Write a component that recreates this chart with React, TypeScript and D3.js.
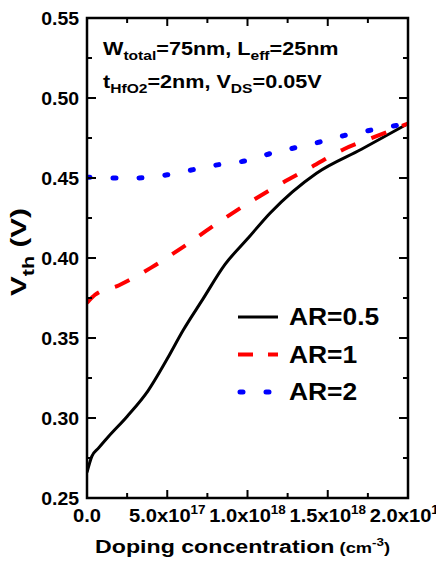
import React from "react";
import * as d3 from "d3";

// Threshold voltage vs. channel doping for three aspect ratios
const dopingAR05 = [0, 0.03e18, 0.07e18, 0.13e18, 0.25e18, 0.38e18, 0.5e18, 0.6e18, 0.72e18, 0.86e18, 1.0e18, 1.14e18, 1.43e18, 1.71e18, 2.0e18];
const vthAR05 = [0.266, 0.276, 0.281, 0.288, 0.301, 0.317, 0.337, 0.355, 0.374, 0.396, 0.412, 0.428, 0.453, 0.468, 0.484];

const dopingAR1 = [0, 0.05e18, 0.2e18, 0.4e18, 0.6e18, 0.8e18, 1.0e18, 1.2e18, 1.4e18, 1.6e18, 1.8e18, 2.0e18];
const vthAR1 = [0.372, 0.377, 0.383, 0.394, 0.407, 0.421, 0.434, 0.446, 0.457, 0.468, 0.476, 0.484];

const dopingAR2 = [0, 0.15e18, 0.3e18, 0.5e18, 0.65e18, 0.8e18, 1.0e18, 1.15e18, 1.3e18, 1.45e18, 1.6e18, 1.8e18, 2.0e18];
const vthAR2 = [0.4505, 0.45, 0.45, 0.452, 0.455, 0.458, 0.461, 0.4655, 0.469, 0.4725, 0.4765, 0.4805, 0.484];

const xTicks = [0, 5e17, 1e18, 1.5e18, 2e18];
const yTicks = [0.25, 0.3, 0.35, 0.4, 0.45, 0.5, 0.55];
const legendLabels = ["AR=0.5", "AR=1", "AR=2"];

const W = 436;
const H = 568;
const left = 87;
const right = 408;
const top = 18;
const bottom = 498;
const font = "'Liberation Sans', Arial, Helvetica, sans-serif";

const x = d3.scaleLinear().domain([0, 2e18]).range([left, right]);
const y = d3.scaleLinear().domain([0.25, 0.55]).range([bottom, top]);

const series = [
  { xs: dopingAR05, ys: vthAR05, color: "#000000", width: 3, dash: "none", cap: "butt" },
  { xs: dopingAR1, ys: vthAR1, color: "#ff0000", width: 4, dash: "16 17", cap: "butt" },
  { xs: dopingAR2, ys: vthAR2, color: "#0000ff", width: 5, dash: "3 23", cap: "round" },
];

// text with a horizontal stretch applied around its anchor point
function Label({ x, y, size, sx = 1, anchor = "start", rotate = 0, children }: any) {
  return (
    <g transform={`translate(${x},${y}) rotate(${rotate}) scale(${sx},1)`}>
      <text fontSize={size} textAnchor={anchor} fontWeight="bold" fontFamily={font} fill="#000">
        {children}
      </text>
    </g>
  );
}

function xLabel(v: number) {
  if (v === 0) return { mant: "0.0", exp: "" };
  const e = Math.floor(Math.log10(v));
  return { mant: (v / Math.pow(10, e)).toFixed(1), exp: String(e) };
}

export default function App() {
  const line = d3.line<number>().curve(d3.curveMonotoneX);
  const xMinor = d3.range(0, 2e18 + 1, 2.5e17);
  const yMinor = d3.range(0.25, 0.5501, 0.025);

  return (
    <svg width={W} height={H} style={{ position: "absolute", left: 0, top: 0, background: "#fff" }}>
      <defs>
        <clipPath id="plot">
          <rect x={left} y={top} width={right - left} height={bottom - top} />
        </clipPath>
      </defs>

      {/* data */}
      <g clipPath="url(#plot)">
        {series.map((s, i) => {
          const pts = s.xs.map((d, j) => [x(d), y(s.ys[j])] as [number, number]);
          return (
            <path
              key={i}
              d={d3.line().curve(d3.curveMonotoneX)(pts) || ""}
              fill="none"
              stroke={s.color}
              strokeWidth={s.width}
              strokeDasharray={s.dash}
              strokeLinecap={s.cap as any}
            />
          );
        })}
      </g>

      {/* ticks on all four sides, pointing inward */}
      <g stroke="#000" strokeWidth={2}>
        {xMinor.map((v, i) => {
          const len = i % 2 === 0 ? 8 : 5;
          return (
            <g key={i}>
              <line x1={x(v)} x2={x(v)} y1={bottom} y2={bottom - len} />
              <line x1={x(v)} x2={x(v)} y1={top} y2={top + len} />
            </g>
          );
        })}
        {yMinor.map((v, i) => {
          const len = i % 2 === 0 ? 9 : 5;
          return (
            <g key={i}>
              <line x1={left} x2={left + len} y1={y(v)} y2={y(v)} />
              <line x1={right} x2={right - len} y1={y(v)} y2={y(v)} />
            </g>
          );
        })}
      </g>
      <rect x={left} y={top} width={right - left} height={bottom - top} fill="none" stroke="#000" strokeWidth={2.5} />

      {/* tick labels */}
      {yTicks.map((v) => (
        <Label key={v} x={79} y={y(v) + 7} size={18} sx={1.08} anchor="end">
          {v.toFixed(2)}
        </Label>
      ))}
      {xTicks.map((v) => {
        const l = xLabel(v);
        return (
          <Label key={v} x={x(v)} y={522} size={18} sx={1.12} anchor="middle">
            {l.mant}
            {l.exp && (
              <>
                <tspan>x10</tspan>
                <tspan fontSize={12} dy={-8}>{l.exp}</tspan>
              </>
            )}
          </Label>
        );
      })}

      {/* axis titles */}
      <Label x={95} y={553} size={19} sx={1.22}>
        Doping concentration
        <tspan fontSize={15}> (cm</tspan>
        <tspan fontSize={11} dy={-7}>-3</tspan>
        <tspan fontSize={15} dy={7}>)</tspan>
      </Label>
      <Label x={26} y={252} size={22} sx={1.35} anchor="middle" rotate={-90}>
        V<tspan fontSize={16} dy={8}>th</tspan>
        <tspan dy={-8}> (V)</tspan>
      </Label>

      {/* device parameters */}
      <Label x={103} y={55} size={18} sx={1.2}>
        W<tspan fontSize={13} dy={5}>total</tspan>
        <tspan dy={-5}>=75nm, L</tspan>
        <tspan fontSize={13} dy={5}>eff</tspan>
        <tspan dy={-5}>=25nm</tspan>
      </Label>
      <Label x={103} y={88} size={18} sx={1.2}>
        t<tspan fontSize={13} dy={5}>HfO2</tspan>
        <tspan dy={-5}>=2nm, V</tspan>
        <tspan fontSize={13} dy={5}>DS</tspan>
        <tspan dy={-5}>=0.05V</tspan>
      </Label>

      {/* legend */}
      {series.map((s, i) => {
        const ly = 317 + i * 37.5;
        const legendDash = i === 1 ? "15 15" : s.dash;
        return (
          <g key={i}>
            <line
              x1={i === 2 ? 240 : 238}
              x2={278}
              y1={ly}
              y2={ly}
              stroke={s.color}
              strokeWidth={s.width}
              strokeDasharray={legendDash}
              strokeLinecap={s.cap as any}
            />
            <Label x={289} y={ly + 8} size={24} sx={1.1}>
              {legendLabels[i]}
            </Label>
          </g>
        );
      })}
    </svg>
  );
}
